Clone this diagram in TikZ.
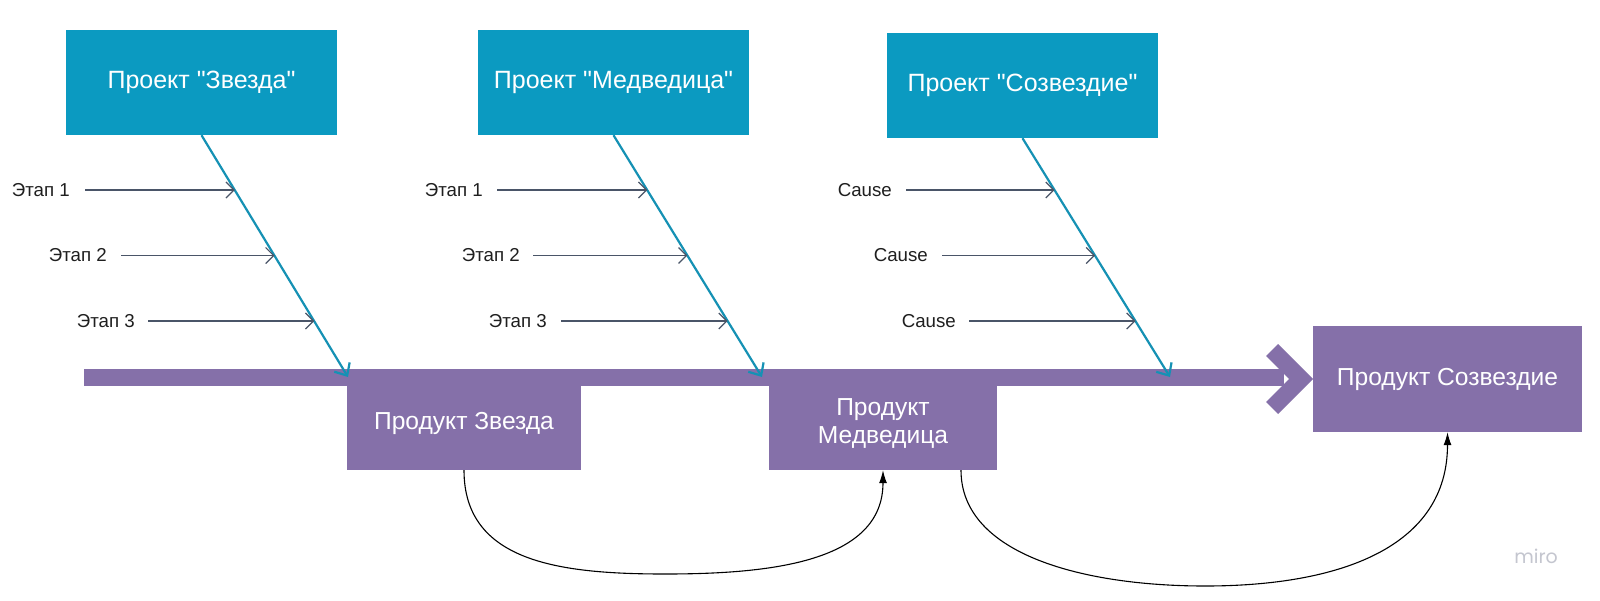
\documentclass[tikz,border=0pt]{standalone}
\usepackage{fontspec}
\setmainfont{Liberation Sans}[Ligatures=TeXOff]
\newfontfamily\mirofont{Poppins}
\usetikzlibrary{arrows.meta,calc}
\definecolor{tealbox}{HTML}{0B9AC1}
\definecolor{tealline}{HTML}{1591B4}
\definecolor{purp}{HTML}{8570A9}
\definecolor{slate}{HTML}{4A5568}
\definecolor{mirogrey}{HTML}{C4C6CF}
\begin{document}
\begin{tikzpicture}[x=1pt,y=-1pt,
  proj/.style={fill=tealbox, text=white, minimum width=271pt, minimum height=105pt, inner sep=0pt, font=\fontsize{25}{29}\selectfont},
  prod/.style={fill=purp, text=white, inner sep=0pt, align=center, font=\fontsize{24.6}{28}\selectfont},
  lab/.style={inner sep=0pt, anchor=east, text=black!88, font=\fontsize{18.7}{22}\selectfont},
  bone/.style={draw=tealline, line width=2.2pt, -{Straight Barb[length=10pt,width=18pt,line width=2.2pt]}},
  rib/.style={draw=slate, line width=1.2pt, -{Straight Barb[length=8pt,width=16pt]}},
  link/.style={draw=black, line width=1.1pt, -{Latex[length=13pt,width=8pt]}}
]
\useasboundingbox (0,0) rectangle (1600,600);
\fill[white] (0,0) rectangle (1600,600);

% spine and head
\draw[purp, line width=17pt] (84,377.5) -- (1284,377.5);
\fill[purp] (1278,344) -- (1313,379) -- (1278,414) -- (1266,402) -- (1289,379) -- (1266,356) -- cycle;

% project boxes
\node[proj] (p1) at (201.5,82.5) {Проект "Звезда"};
\node[proj] (p2) at (613.5,82.5) {Проект "Медведица"};
\node[proj] (p3) at (1022.5,85.5) {Проект "Созвездие"};

% product boxes
\node[prod, minimum width=234pt, minimum height=93pt] (r1) at (464,423.5) {Продукт Звезда};
\node[prod, minimum width=228pt, minimum height=93pt] (r2) at (883,423.5) {Продукт\\Медведица};
\node[prod, minimum width=269pt, minimum height=106pt] (r3) at (1447.5,379) {Продукт Созвездие};

% bone tips
\coordinate (t1) at (348,377);
\coordinate (t2) at (762,377);
\coordinate (t3) at (1170,377);
\draw[bone] (p1.south) -- (t1);
\draw[bone] (p2.south) -- (t2);
\draw[bone] (p3.south) -- (t3);

% rib ends on the bones
\coordinate (e11) at (234.8,190);
\coordinate (e12) at (274.5,255.5);
\coordinate (e13) at (314.3,321);
\coordinate (e21) at (647.3,190);
\coordinate (e22) at (687.4,255.5);
\coordinate (e23) at (727.6,321);
\coordinate (e31) at (1054.6,190);
\coordinate (e32) at (1095.0,255.5);
\coordinate (e33) at (1135.5,321);

% labels
\node[lab] (l11) at (70,190) {Этап 1};
\node[lab] (l12) at (107,255.5) {Этап 2};
\node[lab] (l13) at (135,321) {Этап 3};
\node[lab] (l21) at (483,190) {Этап 1};
\node[lab] (l22) at (520,255.5) {Этап 2};
\node[lab] (l23) at (547,321) {Этап 3};
\node[lab] (l31) at (892,190) {Cause};
\node[lab] (l32) at (928,255.5) {Cause};
\node[lab] (l33) at (956,321) {Cause};

\draw[rib] ([xshift=15pt]l11.east) -- (e11);
\draw[rib] ([xshift=14pt]l12.east) -- (e12);
\draw[rib] ([xshift=13pt]l13.east) -- (e13);
\draw[rib] ([xshift=14pt]l21.east) -- (e21);
\draw[rib] ([xshift=13pt]l22.east) -- (e22);
\draw[rib] ([xshift=14pt]l23.east) -- (e23);
\draw[rib] ([xshift=14pt]l31.east) -- (e31);
\draw[rib] ([xshift=14pt]l32.east) -- (e32);
\draw[rib] ([xshift=13pt]l33.east) -- (e33);

% links between products
\coordinate (b1) at (665,574);
\coordinate (b2) at (1205,586);
\draw[link] (r1.south) .. controls +(0,92) and +(-105,0) .. (b1)
  .. controls +(105,0) and +(0,92) .. (r2.south);
\draw[link] ([xshift=78pt]r2.south) .. controls +(0,85) and +(-120,0) .. (b2)
  .. controls +(135,0) and +(0,115) .. (r3.south);

% watermark
\node[text=mirogrey, inner sep=0pt, font=\mirofont\fontsize{19}{22}\selectfont] (miro) at (1536,556) {miro};
\end{tikzpicture}
\end{document}
